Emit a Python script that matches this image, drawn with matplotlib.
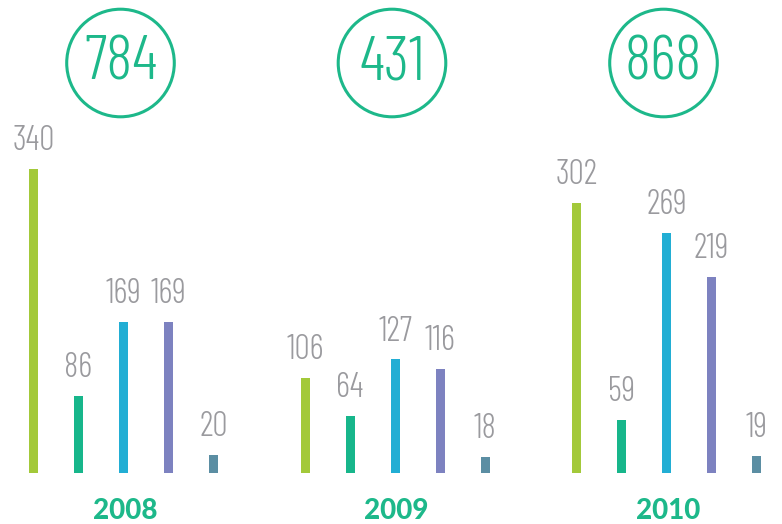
# Totals per year with breakdown bars
import matplotlib.pyplot as plt

years = ['2008', '2009', '2010']
totals = [784, 431, 868]
values = [
    [340, 86, 169, 169, 20],
    [106, 64, 127, 116, 18],
    [302, 59, 269, 219, 19],
]
bar_colors = ['#a3c93a', '#17b68b', '#22aed4', '#7d82c0', '#5b8ea3']
green = '#1db88a'
grey = '#9a9a9e'

thin = dict(family=['Barlow Condensed', 'DejaVu Sans'], fontweight=300,
            fontstretch='condensed')

fig = plt.figure(figsize=(7.82, 5.24), dpi=100)
ax = fig.add_axes([0, 0, 1, 1])
px = 0.894  # pixels per unit
ax.set_xlim(0, 782)
ax.set_ylim(-51 / px, 473 / px)
ax.axis('off')

bar_step = 45
group_step = 271.5
first = 33.5
for g, vals in enumerate(values):
    xs = [first + g * group_step + i * bar_step for i in range(len(vals))]
    ax.bar(xs, vals, width=9, color=bar_colors)
    for x, v in zip(xs, vals):
        ax.annotate(str(v), (x, v), xytext=(0, 8.5), textcoords='offset points',
                    ha='center', va='bottom', fontsize=24.5, color=grey, **thin)
    mid = xs[2]
    ax.scatter([mid - 3], [410 / px], s=6000, facecolors='none',
               edgecolors=green, linewidths=2.2, clip_on=False)
    ax.text(mid - 3, 410 / px, str(totals[g]), ha='center', va='center',
            fontsize=45, color=green, **thin)
    ax.text(mid + 1.5, -38 / px, years[g], ha='center', va='center',
            fontsize=20, fontweight=900, color=green,
            family=['Lato', 'DejaVu Sans'])

fig.savefig('out.png', dpi=100)
